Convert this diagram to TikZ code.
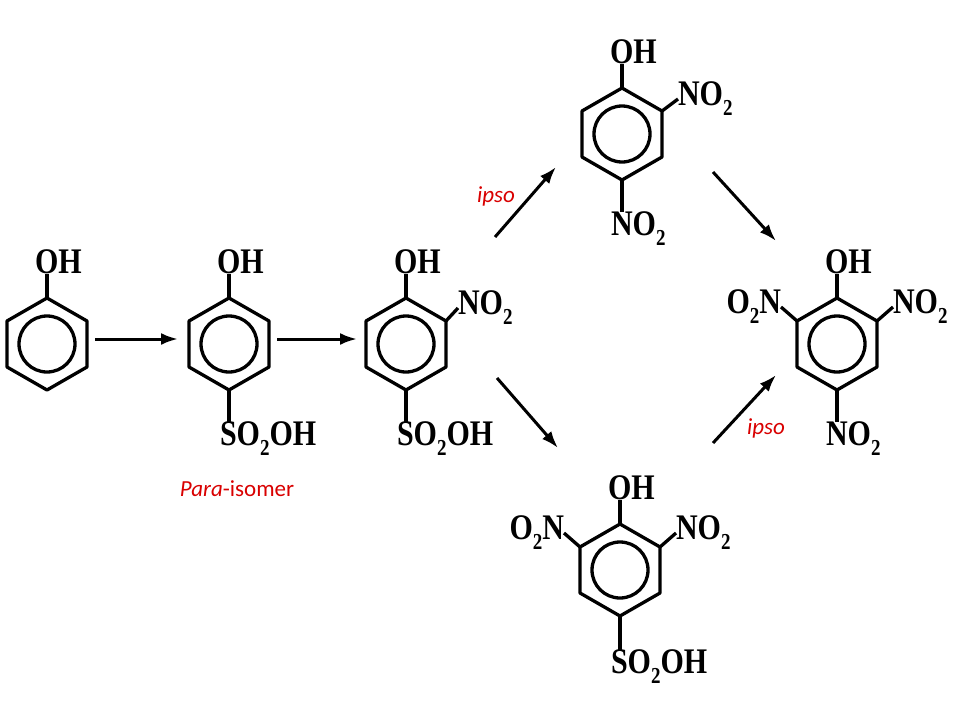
\documentclass[tikz,border=0pt]{standalone}
\usepackage{fontspec}
\usepackage{graphicx}
\setmainfont{Liberation Serif}
\newfontfamily\lblfont{Carlito}
\usetikzlibrary{calc,arrows.meta}
\newcommand\sbt{\raisebox{-0.28em}{\fontsize{19}{19}\selectfont 2}}
\newcommand\chem[1]{\scalebox{1}[1.2]{\fontsize{30}{30}\selectfont\bfseries #1}}
\newcommand\benz[3]{%
 \coordinate (#1) at (#2,#3);
 \coordinate (#1-t) at ($(#1)+(0,-46)$);
 \coordinate (#1-tr) at ($(#1)+(40,-23)$);
 \coordinate (#1-br) at ($(#1)+(40,23)$);
 \coordinate (#1-b) at ($(#1)+(0,46)$);
 \coordinate (#1-bl) at ($(#1)+(-40,23)$);
 \coordinate (#1-tl) at ($(#1)+(-40,-23)$);
 \draw[bond] (#1-t)--(#1-tr)--(#1-br)--(#1-b)--(#1-bl)--(#1-tl)--cycle;
 \draw[bond] (#1) circle (28pt);}
\begin{document}
\begin{tikzpicture}[x=1pt,y=-1pt,
  bond/.style={line width=3.3pt,line join=round},
  lab/.style={inner sep=0pt,outer sep=0pt},
  rxn/.style={line width=3pt,-{Latex[length=17pt,width=12pt]}},
  red/.style={text=red!85!black,inner sep=0pt,font=\lblfont\fontsize{23}{23}\selectfont}]
\useasboundingbox (0,0) rectangle (960,720);
\fill[white] (0,0) rectangle (960,720);
% ring 1 phenol
\benz{r1}{47}{344}
\node[lab,anchor=south west] (oh1) at ($(r1-t)+(-12,-24)$) {\chem{OH}};
\draw[bond] (r1-t) -- (oh1.south west -| r1-t);
% ring 2
\benz{r2}{229}{344}
\node[lab,anchor=south west] (oh2) at ($(r2-t)+(-12,-24)$) {\chem{OH}};
\draw[bond] (r2-t) -- (oh2.south west -| r2-t);
\node[lab,anchor=north west] (s2) at ($(r2-b)+(-9,32)$) {\chem{SO\sbt OH}};
\draw[bond] (r2-b) -- (s2.north west -| r2-b);
\node[red,anchor=north] (para) at (237,480) {\textit{Para}-isomer};
% ring 3
\benz{r3}{406}{344}
\node[lab,anchor=south west] (oh3) at ($(r3-t)+(-12,-24)$) {\chem{OH}};
\draw[bond] (r3-t) -- (oh3.south west -| r3-t);
\node[lab,anchor=west] (n3) at ($(r3-tr)+(12,-13)$) {\chem{NO\sbt}};
\draw[bond] (r3-tr) -- (n3.west);
\node[lab,anchor=north west] (s3) at ($(r3-b)+(-9,32)$) {\chem{SO\sbt OH}};
\draw[bond] (r3-b) -- (s3.north west -| r3-b);
% ring 4 (2,4-dinitrophenol)
\benz{r4}{622}{134}
\node[lab,anchor=south west] (oh4) at ($(r4-t)+(-12,-24)$) {\chem{OH}};
\draw[bond] (r4-t) -- (oh4.south west -| r4-t);
\node[lab,anchor=west] (n4a) at ($(r4-tr)+(16,-12)$) {\chem{NO\sbt}};
\draw[bond] (r4-tr) -- (n4a.west);
\node[lab,anchor=north west] (n4b) at ($(r4-b)+(-11,32)$) {\chem{NO\sbt}};
\draw[bond] (r4-b) -- (n4b.north west -| r4-b);
% ring 5 picric acid
\benz{r5}{837}{344}
\node[lab,anchor=south west] (oh5) at ($(r5-t)+(-12,-24)$) {\chem{OH}};
\draw[bond] (r5-t) -- (oh5.south west -| r5-t);
\node[lab,anchor=west] (n5a) at ($(r5-tr)+(16,-14)$) {\chem{NO\sbt}};
\draw[bond] (r5-tr) -- (n5a.west);
\node[lab,anchor=east] (n5b) at ($(r5-tl)+(-16,-14)$) {\chem{O\sbt N}};
\draw[bond] (r5-tl) -- (n5b.east);
\node[lab,anchor=north west] (n5c) at ($(r5-b)+(-11,32)$) {\chem{NO\sbt}};
\draw[bond] (r5-b) -- (n5c.north west -| r5-b);
% ring 6
\benz{r6}{620}{570}
\node[lab,anchor=south west] (oh6) at ($(r6-t)+(-12,-24)$) {\chem{OH}};
\draw[bond] (r6-t) -- (oh6.south west -| r6-t);
\node[lab,anchor=west] (n6a) at ($(r6-tr)+(16,-14)$) {\chem{NO\sbt}};
\draw[bond] (r6-tr) -- (n6a.west);
\node[lab,anchor=east] (n6b) at ($(r6-tl)+(-16,-14)$) {\chem{O\sbt N}};
\draw[bond] (r6-tl) -- (n6b.east);
\node[lab,anchor=north west] (s6) at ($(r6-b)+(-9,34)$) {\chem{SO\sbt OH}};
\draw[bond] (r6-b) -- (s6.north west -| r6-b);
% arrows
\coordinate (a1s) at (95,339); \coordinate (a1e) at (178,339);
\coordinate (a2s) at (277,339); \coordinate (a2e) at (357,339);
\coordinate (a3s) at (495,237); \coordinate (a3e) at (556,167);
\coordinate (a4s) at (713,172); \coordinate (a4e) at (776,241);
\coordinate (a5s) at (497,378); \coordinate (a5e) at (558,448);
\coordinate (a6s) at (713,443); \coordinate (a6e) at (776,375);
\draw[rxn] (a1s) -- (a1e);
\draw[rxn] (a2s) -- (a2e);
\draw[rxn] (a3s) -- (a3e);
\draw[rxn] (a4s) -- (a4e);
\draw[rxn] (a5s) -- (a5e);
\draw[rxn] (a6s) -- (a6e);
\node[red] (ipso1) at (496,196) {\textit{ipso}};
\node[red] (ipso2) at (766,428) {\textit{ipso}};
\end{tikzpicture}
\end{document}
